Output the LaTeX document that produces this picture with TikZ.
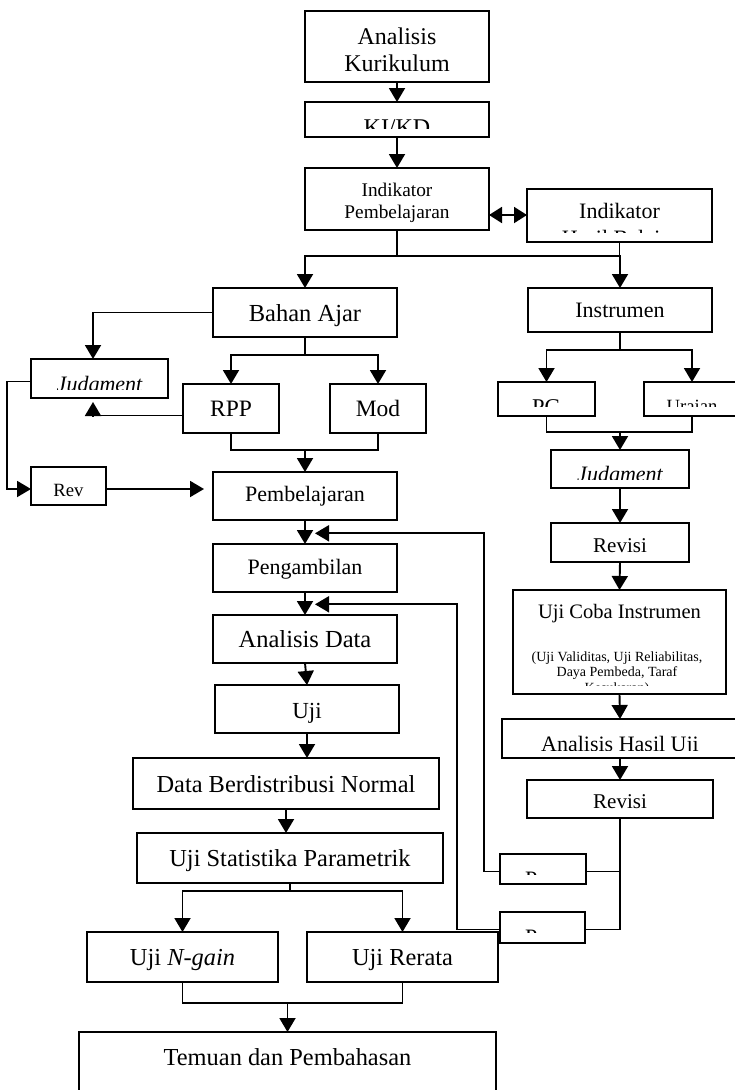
\documentclass[tikz,border=0pt]{standalone}
\usepackage{fontspec}
\setmainfont{Liberation Serif}
\usetikzlibrary{arrows.meta,calc}
\tikzset{
  box/.style={draw, line width=1.9pt, inner sep=0pt, outer sep=0pt, rectangle},
  lbl/.style={anchor=base, inner sep=0pt, outer sep=0pt, font=\fontsize{#1}{#1}\selectfont},
  lbl/.default=22,
  lbli/.style={lbl=#1, font=\fontsize{#1}{#1}\selectfont\itshape},
  lbli/.default=22,
  conn/.style={line width=1.9pt},
  arr/.style={conn, -{Triangle[length=14pt,width=16pt]}},
  dbl/.style={conn, {Triangle[length=13pt,width=16pt]}-{Triangle[length=13pt,width=16pt]}},
}
\newcommand\mybox[5]{\node[box, minimum width={#4-#2}, minimum height={#5-#3}] (#1) at ({(#2+#4)/2},{(#3+#5)/2}) {};}
\begin{document}
\begin{tikzpicture}[x=1pt,y=-1pt]
\useasboundingbox (0,0) rectangle (734,1090);
% ---------- boxes ----------
\mybox{AK}{305}{11}{489}{82}
\mybox{KI}{305}{102}{489}{137}
\mybox{IP}{305}{168}{489}{230}
\mybox{IH}{527}{189}{712}{242}
\mybox{BA}{213}{288}{397}{337}
\mybox{INS}{528}{288}{712}{332}
\mybox{JudL}{31}{359}{168}{398}
\mybox{RPP}{183}{384}{279}{433}
\mybox{Mod}{330}{384}{426}{433}
\mybox{Rev}{31}{467}{106}{505}
\mybox{Pemb}{213}{472}{397}{520}
\mybox{Peng}{213}{544}{397}{592}
\mybox{ADat}{213}{615}{397}{663}
\mybox{Uji}{215}{685}{399}{733}
\mybox{DBN}{133}{758}{439}{809}
\mybox{USP}{137}{833}{443}{883}
\mybox{UNG}{87}{932}{278}{982}
\mybox{UR}{307}{932}{498}{982}
\mybox{TEM}{79}{1032}{496}{1110}
\mybox{PG}{498}{382}{595}{416}
\mybox{URA}{644}{382}{740}{416}
\mybox{JudR}{551}{450}{689}{488}
\mybox{RevA}{551}{523}{689}{562}
\mybox{UCI}{513}{590}{726}{694}
\mybox{AHU}{502}{719}{738}{758}
\mybox{RevB}{527}{780}{713}{818}
\mybox{PA}{500}{854}{586}{884}
\mybox{PB}{500}{912}{585}{943}
% ---------- texts ----------
\node[lbl=24] (AKa) at (397,44) {Analisis};
\node[lbl=24] (AKb) at (397,71) {Kurikulum};
\begin{scope}\clip (305,102) rectangle (489,128.5);
\node[lbl=24] (KIt) at (397,135.8) {KI/KD};\end{scope}
\node[lbl=19.3] (IPa) at (397,196.7) {Indikator};
\node[lbl=19.3] (IPb) at (397,218) {Pembelajaran};
\node[lbl=22] (IHa) at (619.5,218) {Indikator};
\begin{scope}\clip (527,189) rectangle (712,232);
\node[lbl=22] (IHb) at (619.5,245.8) {Hasil Belajar};\end{scope}
\node[lbl=24.5] (BAt) at (305,321.7) {Bahan Ajar};
\node[lbl=22] (INSt) at (620,317) {Instrumen};
\begin{scope}\clip (31,359) rectangle (168,389);
\node[lbli=22] (JudLt) at (99.5,391.3) {Judgment};\end{scope}
\node[lbl=23.5] (RPPt) at (231,416.7) {RPP};
\node[lbl=23.5] (Modt) at (378,416.7) {Mod};
\node[lbl=18.7] (Revt) at (68.5,496) {Rev};
\node[lbl=22] (Pembt) at (305,501.7) {Pembelajaran};
\node[lbl=22] (Pengt) at (305,574) {Pengambilan};
\node[lbl=24.5] (ADatt) at (305,647.3) {Analisis Data};
\node[lbl=23] (Ujit) at (307,718.3) {Uji};
\node[lbl=24.4] (DBNt) at (286,792) {Data Berdistribusi Normal};
\node[lbl=24.4] (USPt) at (290,866.7) {Uji Statistika Parametrik};
\node[lbl=24.4] (UNGt) at (182.5,965.7) {Uji \textit{N-gain}};
\node[lbl=24.4] (URt) at (402.5,965.7) {Uji Rerata};
\node[lbl=24.4] (TEMt) at (287.5,1065) {Temuan dan Pembahasan};
\begin{scope}\clip (498,382) rectangle (595,406);
\node[lbl=22.5] (PGt) at (546.5,414.9) {PG};\end{scope}
\begin{scope}\clip (644,382) rectangle (740,406);
\node[lbl=18.7] (URAt) at (692,412.4) {Uraian};\end{scope}
\begin{scope}\clip (551,450) rectangle (689,479.3);
\node[lbli=22] (JudRt) at (620,481.3) {Judgment};\end{scope}
\begin{scope}\clip (551,523) rectangle (689,553);
\node[lbl=21] (RevAt) at (620,552) {Revisi};\end{scope}
\node[lbl=20.5] (UCIa) at (619.5,618.3) {Uji Coba Instrumen};
\node[lbl=14] (UCIb) at (617,661.7) {(Uji Validitas, Uji Reliabilitas,};
\node[lbl=14] (UCIc) at (617,676.7) {Daya Pembeda, Taraf};
\begin{scope}\clip (513,590) rectangle (726,685);
\node[lbl=14] (UCId) at (617,692) {Kesukaran)};\end{scope}
\begin{scope}\clip (502,719) rectangle (740,750);
\node[lbl=22] (AHUt) at (620,751.3) {Analisis Hasil Uji};\end{scope}
\node[lbl=21] (RevBt) at (620,808.3) {Revisi};
\begin{scope}\clip (500,854) rectangle (586,874.5);
\node[lbl=22, anchor=base west] (PAt) at (525,886.3) {P};\end{scope}
\begin{scope}\clip (500,912) rectangle (585,932.5);
\node[lbl=22, anchor=base west] (PBt) at (525,944.5) {P};\end{scope}
% ---------- connectors: left column ----------
\draw[arr] (AK.south) -- (KI.north);
\draw[arr] (KI.south) -- (IP.north);
\coordinate (da) at ($(IP.east)+(0,16)$);
\draw[dbl] (da) -- (da -| IH.west);
\coordinate (j1) at ($(IP.south)+(0,26)$);
\draw[conn] (IP.south) -- (j1);
\draw[arr] (j1) -| (BA.north);
\draw[arr] (j1) -| (INS.north);
\draw[conn] (IH.south) -- (IH.south |- j1);
\coordinate (jl) at ($(JudL.north)+(-6.5,0)$);
\draw[arr] (BA.west) -| (jl);
\coordinate (j2) at ($(BA.south)+(0,18)$);
\draw[conn] (BA.south) -- (j2);
\draw[arr] (j2) -| (RPP.north);
\draw[arr] (j2) -| (Mod.north);
\coordinate (rw) at ($(RPP.west)+(0,7)$);
\coordinate (jb) at ($(JudL.south)+(-6.5,0)$);
\draw[arr, shorten >=4pt] (rw) -| (jb);
\coordinate (jw) at ($(JudL.west)+(0,3)$);
\coordinate (rv) at ($(Rev.west)+(0,3)$);
\draw[arr] (jw) -- ++(-24.3,0) |- (rv);
\coordinate (re) at ($(Rev.east)+(0,3)$);
\draw[arr, shorten >=9pt] (re) -- (re -| Pemb.west);
\coordinate (j3) at ($(RPP.south)+(0,17)$);
\draw[conn] (RPP.south) -- (j3) -| (Mod.south);
\draw[arr] (j3 -| Pemb.north) -- (Pemb.north);
\draw[arr] (Pemb.south) -- (Peng.north);
\draw[arr] (Peng.south) -- (ADat.north);
\draw[arr] (ADat.south) -- (Uji.north);
\draw[arr] (Uji.south) -- (Uji.south |- DBN.north);
\draw[arr] (DBN.south) -- (DBN.south |- USP.north);
\coordinate (j4) at ($(USP.south)+(0,8)$);
\draw[conn] (USP.south) -- (j4);
\draw[arr] (j4) -| (UNG.north);
\draw[arr] (j4) -| (UR.north);
\coordinate (j5) at ($(UNG.south)+(0,21)$);
\draw[conn] (UNG.south) -- (j5) -| (UR.south);
\draw[arr] (j5 -| TEM.north) -- (TEM.north);
% ---------- connectors: right column ----------
\coordinate (j6) at ($(INS.south)+(0,18)$);
\draw[conn] (INS.south) -- (j6);
\draw[arr] (j6) -| (PG.north);
\draw[arr] (j6) -| (URA.north);
\coordinate (j7) at ($(PG.south)+(0,16)$);
\draw[conn] (PG.south) -- (j7) -| (URA.south);
\draw[arr] (j7 -| JudR.north) -- (JudR.north);
\draw[arr] (JudR.south) -- (RevA.north);
\draw[arr] (RevA.south) -- (UCI.north);
\draw[arr] (UCI.south) -- (AHU.north);
\draw[arr] (AHU.south) -- (RevB.north);
\coordinate (pa) at ($(PA.east)+(0,2.5)$);
\coordinate (pb) at ($(PB.east)+(0,2)$);
\draw[conn] (RevB.south) |- (pb);
\draw[conn] (RevB.south |- pa) -- (pa);
% ---------- feedback arrows ----------
\coordinate (fa) at (315,533.3);
\coordinate (fb) at (315,604.3);
\coordinate (pwa) at ($(PA.west)+(0,2.5)$);
\coordinate (pwb) at ($(PB.west)+(0,2)$);
\draw[arr] (pwa) -- ++(-16,0) |- (fa);
\draw[arr] (pwb) -- ++(-42.7,0) |- (fb);
\end{tikzpicture}
\end{document}
